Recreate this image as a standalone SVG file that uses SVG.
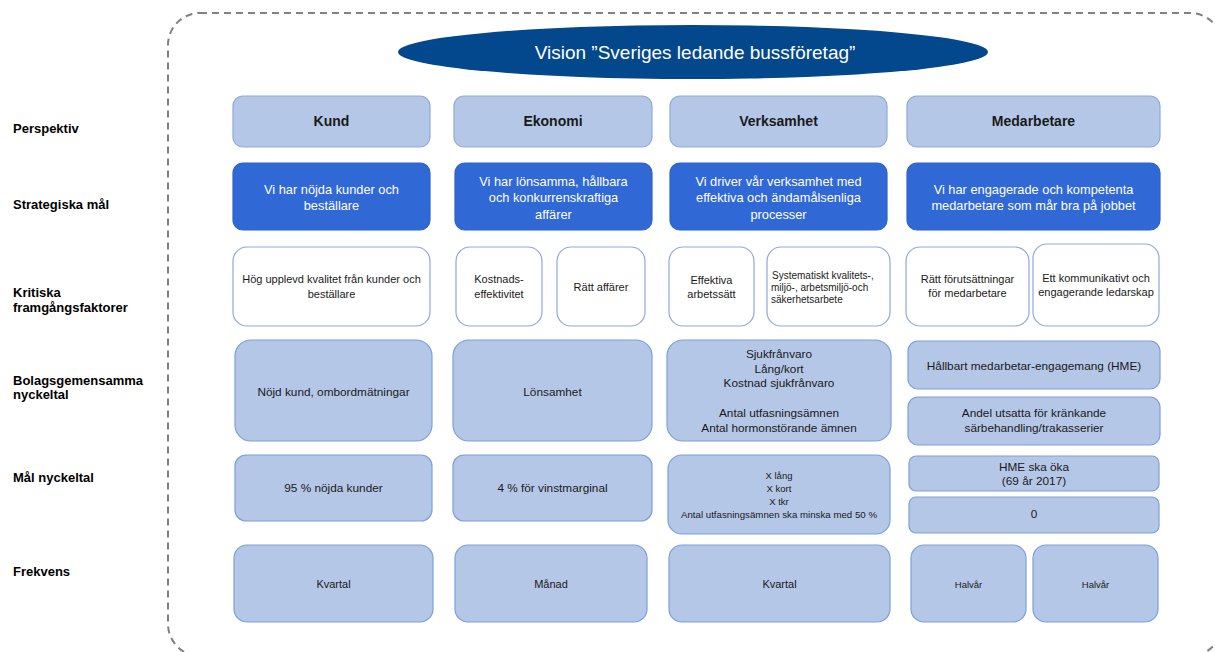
<svg xmlns="http://www.w3.org/2000/svg" width="1215" height="652" viewBox="0 0 1215 652">
<style>
text{font-family:"Liberation Sans",Arial,sans-serif;fill:#1a1a1a;text-anchor:middle}
.lbl{font-weight:bold;font-size:13px;text-anchor:start;fill:#000}
.persp rect{fill:#B4C7E7;stroke:#8EAADC;stroke-width:1.2}
.persp text{font-weight:bold;font-size:14px}
.strat rect{fill:#3068D6;stroke:#2F62C8;stroke-width:1.2}
.strat text{fill:#fff;font-size:12.8px}
.krit rect{fill:#fff;stroke:#8EAADC;stroke-width:1.2}
.krit text{font-size:11px}
.kpi rect{fill:#B4C7E7;stroke:#7C9FDC;stroke-width:1.2}
.kpi text{font-size:11.8px}
.frek text{font-size:11px}
.kpi text.small{font-size:9.5px}
</style>
<rect id="frame" x="168" y="13" width="1054" height="643" rx="32" fill="none" stroke="#808080" stroke-width="2" stroke-dasharray="7 5"/>
<g id="vision">
<ellipse cx="693" cy="52" rx="295" ry="27" fill="#03478C"/>
<text x="695" y="59" style="fill:#fff;font-size:19px">Vision ”Sveriges ledande bussföretag”</text>
</g>
<g id="row-labels">
<text class="lbl" x="13" y="133">Perspektiv</text>
<text class="lbl" x="13" y="209">Strategiska mål</text>
<text class="lbl" x="13" y="297">Kritiska</text>
<text class="lbl" x="13" y="312">framgångsfaktorer</text>
<text class="lbl" x="13" y="385">Bolagsgemensamma</text>
<text class="lbl" x="13" y="399">nyckeltal</text>
<text class="lbl" x="13" y="482">Mål nyckeltal</text>
<text class="lbl" x="13" y="576">Frekvens</text>
</g>
<g id="connectors"></g>
<g id="persp-kund" class="persp"><rect x="233" y="96" width="197" height="51" rx="10"/><text x="331.5" y="126">Kund</text></g>
<g id="persp-ekonomi" class="persp"><rect x="454" y="96" width="198" height="51" rx="10"/><text x="553" y="126">Ekonomi</text></g>
<g id="persp-verksamhet" class="persp"><rect x="670" y="96" width="217" height="51" rx="10"/><text x="778.5" y="126">Verksamhet</text></g>
<g id="persp-medarbetare" class="persp"><rect x="907" y="96" width="253" height="51" rx="10"/><text x="1033.5" y="126">Medarbetare</text></g>

<g id="strat-kund" class="strat"><rect x="233" y="163" width="197" height="67" rx="10"/><text x="331.5" y="193.5">Vi har nöjda kunder och</text><text x="331.5" y="209.5">beställare</text></g>
<g id="strat-ekonomi" class="strat"><rect x="455" y="163" width="197" height="67" rx="10"/><text x="553.5" y="185.5">Vi har lönsamma, hållbara</text><text x="553.5" y="202">och konkurrenskraftiga</text><text x="553.5" y="218.5">affärer</text></g>
<g id="strat-verksamhet" class="strat"><rect x="670" y="163" width="217" height="67" rx="10"/><text x="778.5" y="185.5">Vi driver vår verksamhet med</text><text x="778.5" y="202">effektiva och ändamålsenliga</text><text x="778.5" y="218.5">processer</text></g>
<g id="strat-medarbetare" class="strat"><rect x="907" y="163" width="253" height="67" rx="10"/><text x="1033.5" y="193.5">Vi har engagerade och kompetenta</text><text x="1033.5" y="209.5">medarbetare som mår bra på jobbet</text></g>

<g id="krit-kund" class="krit"><rect x="233" y="247" width="197" height="79" rx="14"/><text x="331.5" y="283">Hög upplevd kvalitet från kunder och</text><text x="331.5" y="298">beställare</text></g>
<g id="krit-kostnad" class="krit"><rect x="456" y="247" width="86" height="79" rx="14"/><text x="499" y="283">Kostnads-</text><text x="499" y="298">effektivitet</text></g>
<g id="krit-ratt-affarer" class="krit"><rect x="557" y="247" width="88" height="79" rx="14"/><text x="601" y="291">Rätt affärer</text></g>
<g id="krit-effektiva" class="krit"><rect x="669" y="247" width="85" height="79" rx="14"/><text x="711.5" y="284">Effektiva</text><text x="711.5" y="298">arbetssätt</text></g>
<g id="krit-systematiskt" class="krit"><rect x="767" y="247" width="123" height="79" rx="14"/><text x="772" y="279" style="text-anchor:start;font-size:10px">Systematiskt kvalitets-,</text><text x="771" y="291" style="text-anchor:start;font-size:10px">miljö-, arbetsmiljö-och</text><text x="771" y="303" style="text-anchor:start;font-size:10px">säkerhetsarbete</text></g>
<g id="krit-forutsattningar" class="krit"><rect x="906" y="247" width="123" height="79" rx="14"/><text x="967.5" y="283">Rätt förutsättningar</text><text x="967.5" y="297">för medarbetare</text></g>
<g id="krit-ledarskap" class="krit"><rect x="1033" y="244" width="126" height="82" rx="14"/><text x="1096" y="282">Ett kommunikativt och</text><text x="1096" y="296">engagerande ledarskap</text></g>

<g id="kpi-kund" class="kpi"><rect x="235" y="340" width="197" height="101" rx="16"/><text x="333.5" y="396">Nöjd kund, ombordmätningar</text></g>
<g id="kpi-ekonomi" class="kpi"><rect x="453" y="340" width="199" height="101" rx="16"/><text x="552.5" y="396">Lönsamhet</text></g>
<g id="kpi-verksamhet" class="kpi"><rect x="667" y="340" width="224" height="101" rx="16"/><text x="779" y="358">Sjukfrånvaro</text><text x="779" y="373">Lång/kort</text><text x="779" y="387">Kostnad sjukfrånvaro</text><text x="779" y="417">Antal utfasningsämnen</text><text x="779" y="432">Antal hormonstörande ämnen</text></g>
<g id="kpi-hme" class="kpi"><rect x="908" y="341" width="252" height="48" rx="10"/><text x="1034" y="370">Hållbart medarbetar-engagemang (HME)</text></g>
<g id="kpi-krankande" class="kpi"><rect x="908" y="397" width="252" height="48" rx="10"/><text x="1034" y="417">Andel utsatta för kränkande</text><text x="1034" y="432">särbehandling/trakasserier</text></g>

<g id="mal-kund" class="kpi"><rect x="235" y="455" width="197" height="66" rx="11"/><text x="333.5" y="492">95 % nöjda kunder</text></g>
<g id="mal-ekonomi" class="kpi"><rect x="453" y="455" width="199" height="66" rx="11"/><text x="552.5" y="492">4 % för vinstmarginal</text></g>
<g id="mal-verksamhet" class="kpi"><rect x="668" y="455" width="222" height="79" rx="14"/><text class="small" x="779" y="479">X lång</text><text class="small" x="779" y="492">X kort</text><text class="small" x="779" y="505">X tkr</text><text class="small" x="779" y="518" textLength="196" lengthAdjust="spacingAndGlyphs">Antal utfasningsämnen ska minska med 50 %</text></g>
<g id="mal-hme" class="kpi"><rect x="909" y="456" width="250" height="35" rx="7"/><text x="1034" y="471">HME ska öka</text><text x="1034" y="485">(69 år 2017)</text></g>
<g id="mal-krankande" class="kpi"><rect x="909" y="497" width="250" height="36" rx="7"/><text x="1034" y="518">0</text></g>

<g id="frek-kund" class="kpi frek"><rect x="234" y="545" width="199" height="77" rx="13"/><text x="333.5" y="588">Kvartal</text></g>
<g id="frek-ekonomi" class="kpi frek"><rect x="455" y="545" width="192" height="77" rx="13"/><text x="551" y="588">Månad</text></g>
<g id="frek-verksamhet" class="kpi frek"><rect x="669" y="545" width="221" height="77" rx="13"/><text x="779.5" y="588">Kvartal</text></g>
<g id="frek-hme" class="kpi frek"><rect x="911" y="545" width="115" height="77" rx="13"/><text class="small" x="968.5" y="587.5">Halvår</text></g>
<g id="frek-krankande" class="kpi frek"><rect x="1033" y="545" width="125" height="77" rx="13"/><text class="small" x="1095.5" y="587.5">Halvår</text></g>
</svg>
